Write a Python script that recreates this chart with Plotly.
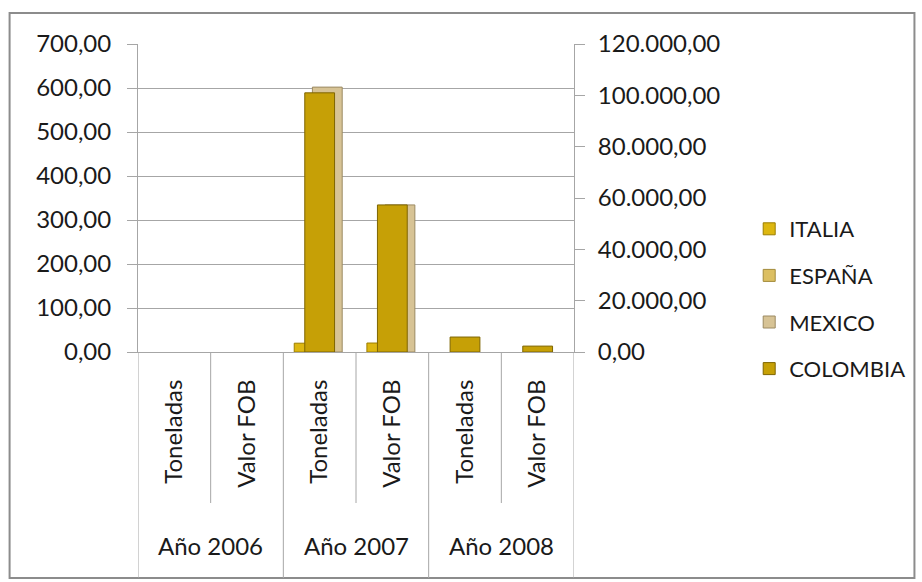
import plotly.graph_objects as go

# Category layout: two measures per year
years = ["Año 2006", "Año 2007", "Año 2008"]
measures = ["Toneladas", "Valor FOB"]

# Toneladas (left axis) per year
ton_italia = [0, 20, 0]
ton_espana = [0, 0, 0]
ton_mexico = [0, 602, 0]
ton_colombia = [0, 589, 34]

# Valor FOB (right axis) per year
fob_italia = [0, 3500, 0]
fob_espana = [0, 0, 0]
fob_mexico = [0, 57300, 0]
fob_colombia = [0, 57300, 2300]

left_ticks = [0, 100, 200, 300, 400, 500, 600, 700]
right_ticks = [0, 20000, 40000, 60000, 80000, 100000, 120000]

series = [
    ("ITALIA", ton_italia, fob_italia, "#DDB710", "#9C7E00", -0.35),
    ("ESPAÑA", ton_espana, fob_espana, "#DCBF62", "#A38A3A", -0.25),
    ("MEXICO", ton_mexico, fob_mexico, "#D7C395", "#9C8A62", -0.10),
    ("COLOMBIA", ton_colombia, fob_colombia, "#C6A006", "#7E6500", -0.205),
]
bar_w = 0.41

ton_x = [2 * i for i in range(len(years))]
fob_x = [2 * i + 1 for i in range(len(years))]


def nonzero(vals):
    # empty cells are left undrawn
    return [v if v else None for v in vals]


FONT = "Lato"
FS = 24
TXT = "#1a1a1a"
GRID = "#a6a6a6"

fig = go.Figure()
for rank, (name, ton, fob, col, edge, off) in enumerate(series):
    common = dict(
        marker=dict(color=col, line=dict(color=edge, width=1)),
        width=bar_w, offset=off, legendgroup=name, name=name,
        legendrank=rank + 1,
    )
    fig.add_trace(go.Bar(x=ton_x, y=nonzero(ton), yaxis="y", showlegend=True, **common))
    fig.add_trace(go.Bar(x=fob_x, y=nonzero(fob), yaxis="y2", showlegend=False, **common))

# Plot-area geometry in pixels (used for paper-coordinate decorations)
L, R, T, B = 138, 346, 44, 230
W, H = 922, 582
pw, ph = W - L - R, H - T - B


def px_x(p):
    return (p - L) / pw


def px_y(p):
    return (H - B - p) / ph


shapes = []
# category separators below the axis
n_cat = 2 * len(years)
for k in range(n_cat + 1):
    xb = k - 0.5
    y_end = px_y(578) if k % 2 == 0 else px_y(503)
    shapes.append(dict(type="line", xref="x", yref="paper", x0=xb, x1=xb,
                       y0=0, y1=y_end, line=dict(color=GRID, width=1)))
# outer chart border
shapes.append(dict(type="rect", xref="paper", yref="paper",
                   x0=px_x(9), x1=px_x(918), y0=px_y(578), y1=px_y(13),
                   line=dict(color="#8c8c8c", width=2), layer="below"))

annotations = []
for i, yr in enumerate(years):
    annotations.append(dict(text=yr, xref="x", yref="paper", x=2 * i + 0.5,
                            y=px_y(545), yanchor="middle", showarrow=False,
                            font=dict(family=FONT, size=FS, color=TXT)))

fig.update_layout(
    width=W, height=H,
    margin=dict(l=L, r=R, t=T, b=B, pad=0),
    paper_bgcolor="white", plot_bgcolor="white",
    separators=",.",
    barmode="overlay",
    font=dict(family=FONT, size=FS, color=TXT),
    xaxis=dict(
        range=[-0.5, n_cat - 0.5],
        tickmode="array",
        tickvals=list(range(n_cat)),
        ticktext=measures * len(years),
        tickangle=-90,
        ticks="", showgrid=False, zeroline=False,
        showline=True, linecolor=GRID,
        ticklabelstandoff=17,
        tickfont=dict(family=FONT, size=FS, color=TXT),
    ),
    yaxis=dict(
        range=[0, 700], tickvals=left_ticks, tickformat=",.2f",
        ticks="outside", ticklen=10, tickcolor=GRID,
        showline=True, linecolor=GRID, gridcolor=GRID, zeroline=False,
        ticklabelstandoff=11,
        tickfont=dict(family=FONT, size=FS, color=TXT),
    ),
    yaxis2=dict(
        range=[0, 120000], tickvals=right_ticks, tickformat=",.2f",
        overlaying="y", side="right",
        ticks="outside", ticklen=10, tickcolor=GRID,
        showline=True, linecolor=GRID, showgrid=False, zeroline=False,
        ticklabelstandoff=8,
        tickfont=dict(family=FONT, size=FS, color=TXT),
    ),
    legend=dict(
        x=px_x(752), y=px_y(208), xanchor="left", yanchor="top",
        traceorder="grouped", tracegroupgap=15,
        font=dict(family=FONT, size=22, color=TXT),
        bgcolor="rgba(0,0,0,0)",
    ),
    shapes=shapes,
    annotations=annotations,
    showlegend=True,
)

fig.write_html("out.html")
